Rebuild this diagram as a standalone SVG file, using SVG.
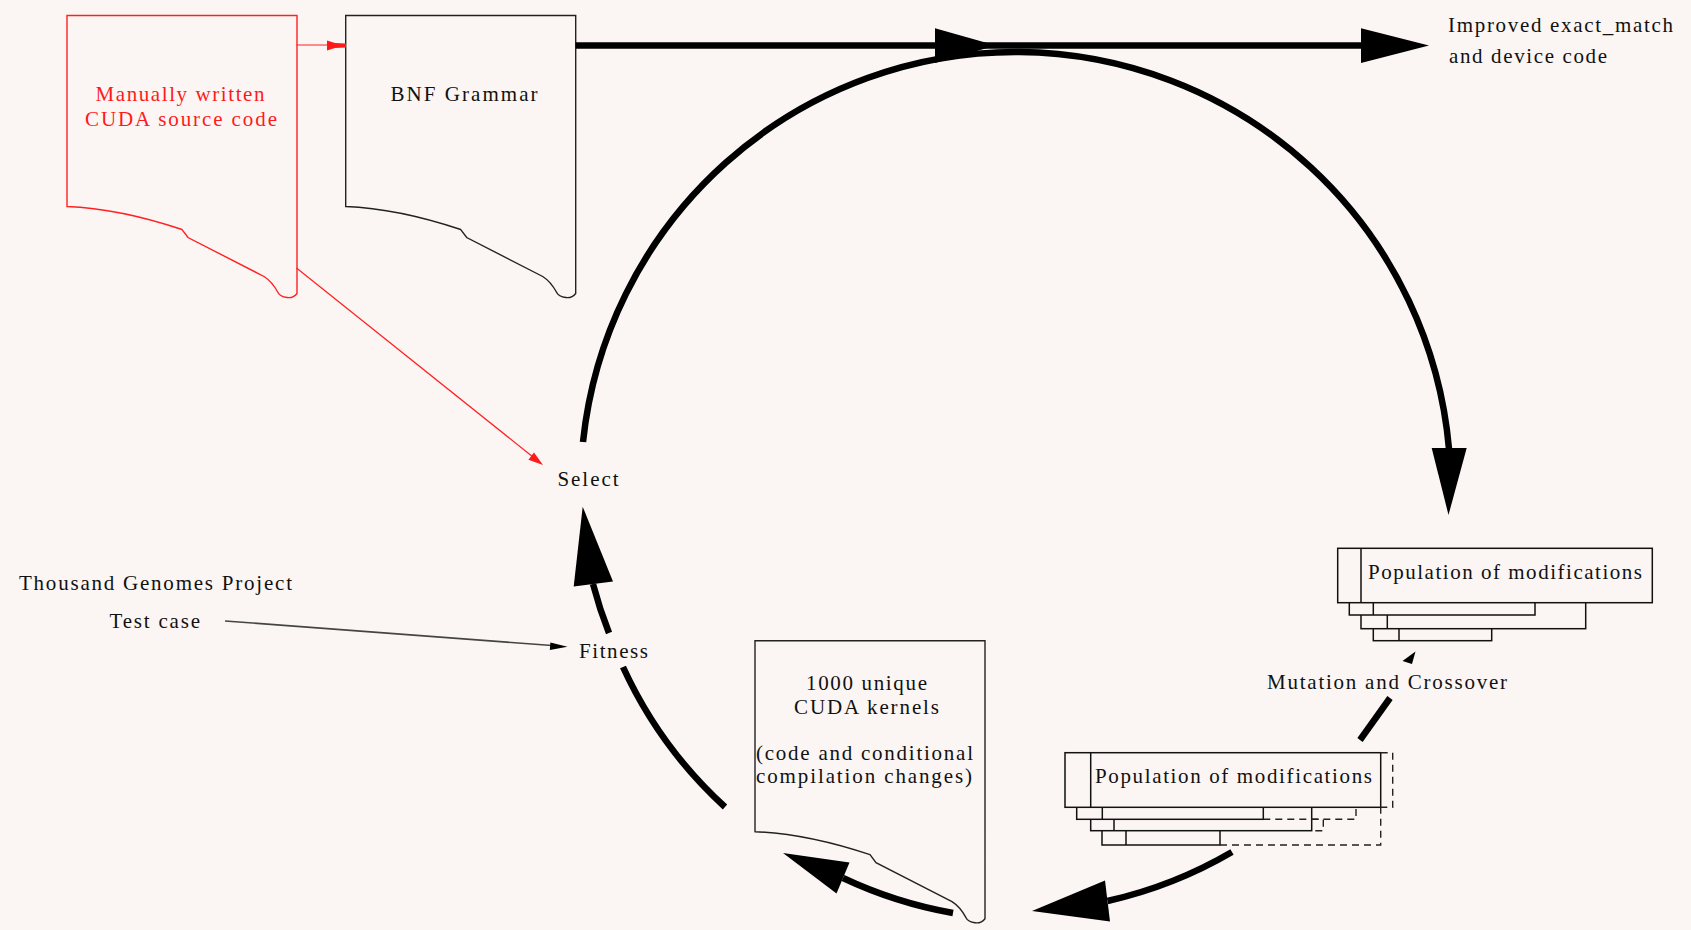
<svg xmlns="http://www.w3.org/2000/svg" width="1691" height="930" viewBox="0 0 1691 930">
<style>
text{font-family:"Liberation Serif","Times New Roman",serif;font-size:21px;fill:#111}
.red{fill:#ff1a1a}
.doc{fill:#fbf6f4;stroke:#222;stroke-width:1.4}
.rdoc{fill:#fbf6f4;stroke:#ff2020;stroke-width:1.4}
.box{fill:#fbf6f4;stroke:#111;stroke-width:1.5}
.dash{fill:none;stroke:#222;stroke-width:1.4;stroke-dasharray:7,5}
.thick{fill:none;stroke:#000;stroke-width:6.5}
.head{fill:#000;stroke:none}
.thin{fill:none;stroke:#444;stroke-width:1.6}
.rthin{fill:none;stroke:#ff2020;stroke-width:1.2}
</style>
<defs>
<path id="docshape" d="M0,0 H230 V278 Q226,283 220,282 Q213,281 211,277 Q205,266 197,261 L121,222 L115,214 Q52,193 0,191 Z"/>
</defs>
<rect width="1691" height="930" fill="#fbf6f4"/>

<g id="manual">
<use href="#docshape" class="rdoc" transform="translate(67,15.5)"/>
<text class="red" x="95.5" y="100.5" textLength="169" lengthAdjust="spacing">Manually written</text>
<text class="red" x="85" y="126" textLength="192" lengthAdjust="spacing">CUDA source code</text>
</g>

<g id="bnf">
<use href="#docshape" class="doc" transform="translate(345.7,15.5)"/>
<text x="390.5" y="100.5" textLength="147" lengthAdjust="spacing">BNF Grammar</text>
</g>

<g id="improved">
<text x="1448" y="32" textLength="225" lengthAdjust="spacing">Improved exact_match</text>
<text x="1449" y="63" textLength="158" lengthAdjust="spacing">and device code</text>
</g>

<g id="select"><text x="557.5" y="485.5" textLength="61" lengthAdjust="spacing">Select</text></g>
<g id="thousand"><text x="19" y="590" textLength="273" lengthAdjust="spacing">Thousand Genomes Project</text></g>
<g id="testcase"><text x="109.5" y="627.5" textLength="90.5" lengthAdjust="spacing">Test case</text></g>
<g id="fitness"><text x="579" y="658" textLength="69" lengthAdjust="spacing">Fitness</text></g>
<g id="mutation"><text x="1267" y="689" textLength="240" lengthAdjust="spacing">Mutation and Crossover</text></g>

<g id="pop1">
<rect class="box" x="1373.3" y="590" width="118.4" height="50.7"/><line class="box" x1="1399" y1="590" x2="1399" y2="640.7"/>
<rect class="box" x="1361" y="590" width="224.7" height="38.7"/><line class="box" x1="1387.3" y1="590" x2="1387.3" y2="628.7"/>
<rect class="box" x="1349.3" y="590" width="185.7" height="25"/><line class="box" x1="1373.3" y1="590" x2="1373.3" y2="615"/>
<rect class="box" x="1337.7" y="548.3" width="314.6" height="54.4"/><line class="box" x1="1361" y1="548.3" x2="1361" y2="602.7"/>
<text x="1368" y="579" textLength="274" lengthAdjust="spacing">Population of modifications</text>
</g>

<g id="pop2">
<rect class="box" x="1102" y="790" width="118" height="55"/><line class="box" x1="1126" y1="790" x2="1126" y2="845"/>
<rect class="box" x="1090.7" y="790" width="221" height="40.7"/><line class="box" x1="1114" y1="790" x2="1114" y2="830.7"/>
<rect class="box" x="1076.7" y="790" width="186.6" height="29.3"/><line class="box" x1="1102.3" y1="790" x2="1102.3" y2="819.3"/>
<rect class="box" x="1065" y="752.7" width="315.7" height="54.6"/><line class="box" x1="1090.7" y1="752.7" x2="1090.7" y2="807.3"/>
<path class="dash" d="M1380.7,752.7 H1392.7 V807.3 H1380.7"/>
<path class="dash" d="M1263.3,819.3 H1356 V807.3"/>
<path class="dash" d="M1311.7,819.3 H1323.3 V830.7 H1315"/>
<path class="dash" d="M1220,845 H1380.7 V807.3"/>
<text x="1095" y="783" textLength="277" lengthAdjust="spacing">Population of modifications</text>
</g>

<g id="kernels">
<use href="#docshape" class="doc" transform="translate(755,640.7)"/>
<text x="806" y="689.5" textLength="121" lengthAdjust="spacing">1000 unique</text>
<text x="794" y="713.5" textLength="145" lengthAdjust="spacing">CUDA kernels</text>
<text x="756" y="759.5" textLength="217" lengthAdjust="spacing">(code and conditional</text>
<text x="756" y="783" textLength="216" lengthAdjust="spacing">compilation changes)</text>
</g>

<g id="connectors">
<line class="rthin" x1="296.5" y1="45" x2="330" y2="45"/>
<polygon fill="#ff1a1a" points="327,40.5 335,43 346,43.5 346,47.5 335,48 327,50.5"/>
<line class="rthin" x1="296.5" y1="268" x2="533" y2="457"/>
<polygon fill="#ff1a1a" points="543,465 528.4,459.8 534,452.6"/>
<line class="thin" x1="225" y1="621" x2="552" y2="645.5"/>
<polygon class="head" points="567.5,646.7 549.8,650 550.4,642.4"/>
<line class="thick" x1="575.7" y1="45.5" x2="1362" y2="45.5"/>
<polygon class="head" points="935,28.3 996,45.5 935,63"/>
<polygon class="head" points="1361,28.3 1429,45.5 1361,63"/>
<path class="thick" d="M583,442 A435,435 0 0 1 1449,449"/>
<polygon class="head" points="1431.7,448 1466.7,448 1448.5,515"/>
<line class="thick" x1="1360" y1="740" x2="1390" y2="698"/>
<polygon class="head" points="1415.5,651.5 1412,664 1402.5,661"/>
<path class="thick" d="M1232,852 A435,435 0 0 1 1107.5,901"/>
<polygon class="head" points="1105,880.5 1032,911 1110,921.5"/>
<path class="thick" d="M953,913 A435,435 0 0 1 843,878"/>
<polygon class="head" points="849.5,862.5 783,853 836.5,893.5"/>
<path class="thick" d="M725,807 A435,435 0 0 1 623,667"/>
<path class="thick" d="M609,633 A435,435 0 0 1 593,584"/>
<polygon class="head" points="613,581.5 582.7,506.7 573.7,586.5"/>
</g>
</svg>
